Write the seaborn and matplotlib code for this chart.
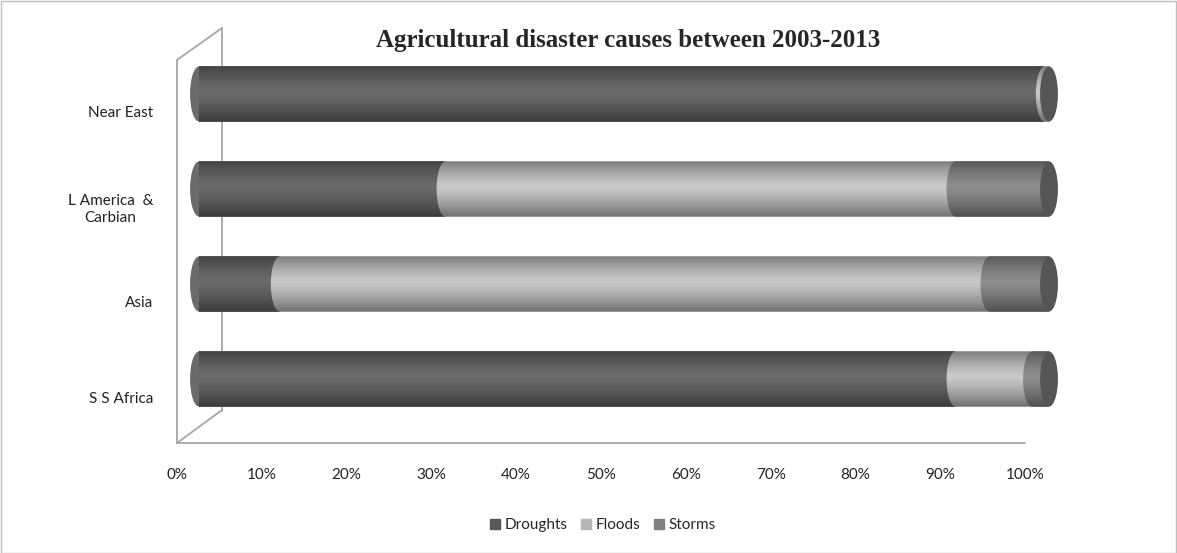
import numpy as np
import pandas as pd
import matplotlib
matplotlib.use("Agg")
import matplotlib.pyplot as plt
import matplotlib.transforms as mtransforms
from matplotlib.patches import Ellipse, Rectangle, Patch
from matplotlib.path import Path
from matplotlib.lines import Line2D
import seaborn as sns

# %% data
regions = ["Near East", "L America  &\nCarbian", "Asia", "S S Africa"]
droughts = [99.5, 29, 9.5, 89]
floods = [0.5, 60, 83.5, 9]
storms = [0, 11, 7, 2]
series = ["Droughts", "Floods", "Storms"]
x_ticks = list(range(0, 101, 10))

c_drought = "#6b6b6b"
c_flood = "#c9c9c9"
c_storm = "#8e8e8e"
c_cap = "#555555"
c_wall = "#a6a6a6"

df = pd.DataFrame({"region": regions, "Droughts": droughts, "Floods": floods, "Storms": storms})
df["cum_d"] = df["Droughts"]
df["cum_f"] = df["cum_d"] + df["Floods"]
df["cum_s"] = df["cum_f"] + df["Storms"]

# %% layout
sns.set_style("white")
plt.rcParams["font.family"] = ["Lato", "DejaVu Sans"]
W, H = 1177, 553
fig = plt.figure(figsize=(W / 100, H / 100), dpi=100)

ax_l, ax_r, ax_t, ax_b = 177, 1025, 60, 443
pos = [ax_l / W, (H - ax_b) / H, (ax_r - ax_l) / W, (ax_b - ax_t) / H]
ylims = (3.484, -0.547)
bar_h = 0.58
cap_w = 2.1

# front axes: ticks, labels, frame
ax = fig.add_axes(pos)
ax.set_xlim(0, 100)
ax.set_ylim(*ylims)
for s in ax.spines.values():
    s.set_visible(False)
ax.set_xticks(x_ticks, [f"{t}%" for t in x_ticks])
ax.set_yticks(range(len(regions)), regions)
ax.tick_params(axis="x", length=0, pad=18, labelsize=11, labelcolor="#222222")
ax.tick_params(axis="y", length=0, pad=17, labelsize=11, labelcolor="#222222")
for lab in ax.get_yticklabels():
    lab.set_multialignment("center")
ax.patch.set_visible(False)

# 3d wall / floor edges
back = mtransforms.offset_copy(ax.transAxes, fig=fig, x=45, y=32, units="dots")
ax.add_line(Line2D([0, 1], [0, 0], transform=ax.transAxes, color=c_wall, lw=1.3, clip_on=False))
ax.add_line(Line2D([0, 0], [0, 1], transform=ax.transAxes, color=c_wall, lw=1.3, clip_on=False))
ax.add_line(Line2D([0, 0], [0, 1], transform=back, color=c_wall, lw=1.3, clip_on=False))
fig.add_artist(Line2D([ax_l / W, (ax_l + 45) / W], [(H - ax_t) / H, (H - ax_t + 32) / H],
                      color=c_wall, lw=1.3))
fig.add_artist(Line2D([ax_l / W, (ax_l + 45) / W], [(H - ax_b) / H, (H - ax_b + 33) / H],
                      color=c_wall, lw=1.3))

# bar axes, pushed back into the 3d box
bx = fig.add_axes([199 / W, (H - ax_b + 18) / H, 850 / W, pos[3]])
bx.patch.set_visible(False)
sns.barplot(data=df, x="cum_s", y="region", order=regions, color=c_storm, width=bar_h,
            orient="h", ax=bx, saturation=1, linewidth=0)
sns.barplot(data=df, x="cum_f", y="region", order=regions, color=c_flood, width=bar_h,
            orient="h", ax=bx, saturation=1, linewidth=0)
sns.barplot(data=df, x="cum_d", y="region", order=regions, color=c_drought, width=bar_h,
            orient="h", ax=bx, saturation=1, linewidth=0)

# rounded segment starts (cylinder look)
for i, row in df.iterrows():
    bx.add_patch(Ellipse((0, i), cap_w, bar_h, color=c_drought, lw=0, zorder=3, clip_on=False))
    if row["Floods"] > 0:
        bx.add_patch(Ellipse((row["cum_d"], i), cap_w, bar_h, color=c_flood, lw=0, zorder=3,
                             clip_on=False))
    if row["Storms"] > 0:
        bx.add_patch(Ellipse((row["cum_f"], i), cap_w, bar_h, color=c_storm, lw=0, zorder=3,
                             clip_on=False))

# shading gradient over each cylinder
tt = np.linspace(0, 1, 200)
alpha = np.where(tt < 0.45, 0.38 * (1 - tt / 0.45) ** 1.3, 0.45 * ((tt - 0.45) / 0.55) ** 1.3)
grad = np.zeros((200, 1, 4))
grad[:, 0, 3] = alpha
for i in range(len(regions)):
    y0, y1 = i - bar_h / 2, i + bar_h / 2
    rect = Path.unit_rectangle().transformed(
        mtransforms.Affine2D().scale(100, bar_h).translate(0, y0))
    ell = Path.unit_circle().transformed(
        mtransforms.Affine2D().scale(cap_w / 2, bar_h / 2).translate(0, i))
    clip = Path.make_compound_path(rect, ell)
    im = bx.imshow(grad, extent=(-cap_w / 2, 100, y1, y0), aspect="auto",
                   origin="upper", zorder=4, interpolation="bilinear")
    im.set_clip_path(clip, bx.transData)
    im.set_clip_box(None)
    bx.add_patch(Ellipse((df.loc[i, "cum_s"], i), cap_w, bar_h, color=c_cap, lw=0, zorder=5,
                         clip_on=False))

bx.set_xlim(0, 100)
bx.set_ylim(*ylims)
bx.axis("off")

# title, legend, border
fig.text(628 / W, 1 - 40 / H, "Agricultural disaster causes between 2003-2013",
         ha="center", va="center", fontsize=18, fontweight="bold",
         family=["Liberation Serif", "DejaVu Serif"])
handles = [Patch(color=c) for c in ["#595959", "#b5b5b5", "#808080"]]
fig.legend(handles, series, loc="center", bbox_to_anchor=(603 / W, 1 - 525 / H), ncol=3,
           frameon=False, fontsize=11, handlelength=0.65, handleheight=0.65,
           handletextpad=0.3, columnspacing=0.9)
fig.add_artist(Rectangle((0.5 / W, 0.5 / H), 1 - 1.5 / W, 1 - 1.5 / H, transform=fig.transFigure,
                         fill=False, edgecolor="#bfbfbf", lw=1))

fig.savefig("out.png", dpi=100)
